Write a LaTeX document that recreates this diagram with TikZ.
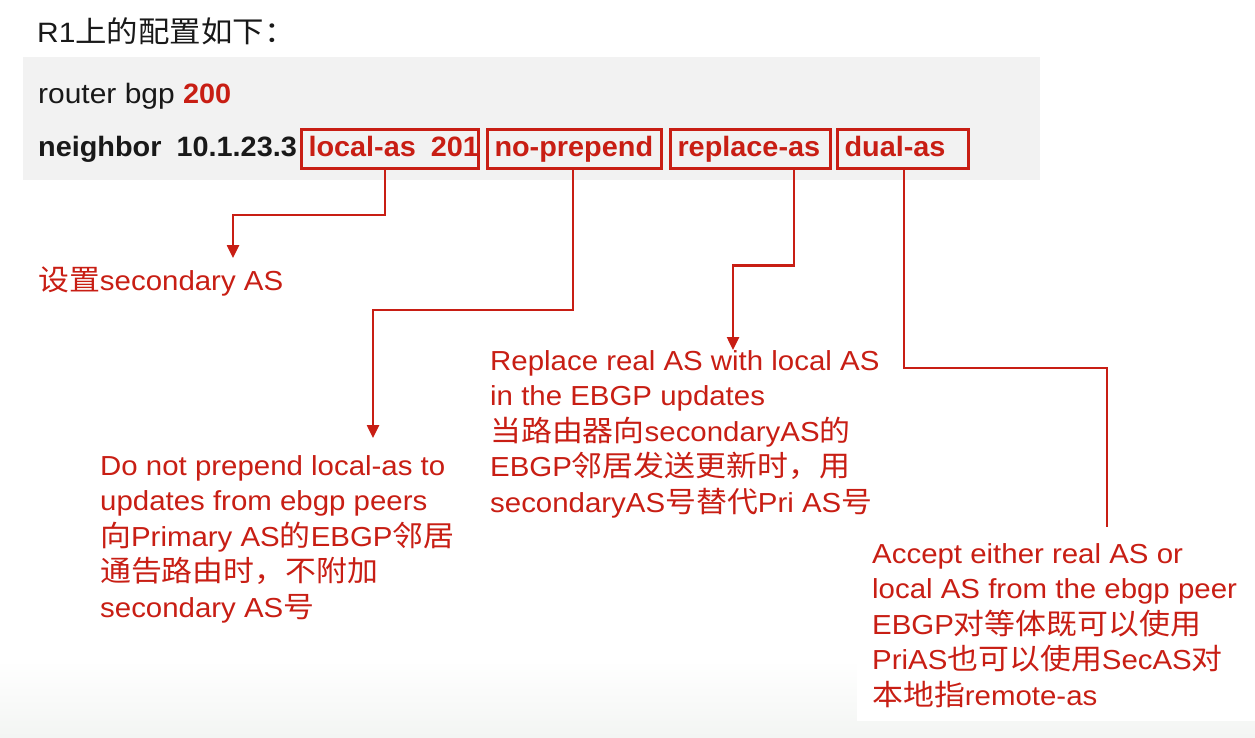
\documentclass[tikz,border=0pt]{standalone}
\usepackage{fontspec}
\setmainfont[FakeStretch=1.07]{Liberation Sans}
\newfontfamily\cmdsans[FakeStretch=1.03]{Liberation Sans}
\newfontfamily\cjkfont[Scale=1.05,FakeStretch=1.07]{Noto Sans CJK SC}
\usetikzlibrary{arrows.meta,calc}
\definecolor{hwred}{RGB}{200,30,20}
\definecolor{codegray}{RGB}{242,242,242}
\definecolor{txtblack}{RGB}{25,25,25}
\definecolor{floorgray}{RGB}{243,245,243}
\newcommand\zh[1]{{\cjkfont #1}}
\newcommand\Ln[1]{\hbox{#1}}
\begin{document}
\spaceskip=11pt\relax
\begin{tikzpicture}[x=1pt,y=-1pt,
  txt/.style={inner sep=0pt, anchor=base west, font=\fontsize{27.5}{35.5}\selectfont},
  head/.style={inner sep=0pt, anchor=base west, text=txtblack, font=\fontsize{28}{34}\selectfont},
  note/.style={txt, text=hwred},
  cmd/.style={draw=hwred, line width=3pt, text=hwred, font=\fontsize{28}{34}\cmdsans\bfseries, inner xsep=7pt, inner ysep=0pt, text height=20pt, text depth=6pt, minimum height=39pt, align=left},
  conn/.style={draw=hwred, line width=2.5pt},
  arr/.style={conn, -{Triangle[length=13pt,width=12pt]}}
]
\useasboundingbox (0,0) rectangle (1255,737);
\fill[white] (0,0) rectangle (1255,737);
\shade[top color=white, bottom color=floorgray] (0,660) rectangle (1255,737);
\fill[white] (857,528) rectangle (1255,721);
\fill[codegray] (23,57) rectangle (1040,180);

% header texts
\node[head] (title) at (37,42) {R1\zh{上的配置如下：}};
\node[head] (router) at (38,103) {router bgp {\cmdsans\bfseries\textcolor{hwred}{200}}};
\node[head, font=\fontsize{28}{34}\cmdsans\bfseries] (nb) at (38,156) {neighbor\hspace{15pt}10.1.23.3};

% command boxes
\node[cmd, text width=163pt] (la) at (390,149) {\Ln{local-as\hspace{15pt}201}};
\node[cmd, text width=160pt] (np) at (574.5,149) {\Ln{no-prepend}};
\node[cmd, text width=146pt] (rp) at (750.5,149) {\Ln{replace-as}};
\node[cmd, text width=117pt] (da) at (903,149) {\Ln{dual-as}};

% notes
\node[note] (nA) at (38,290) {\zh{设置}secondary\ AS};
\node[note] (nB) at (100,475) {\vtop{%
  \Ln{Do not prepend\ local-as\ to}%
  \Ln{updates\ from ebgp\ peers}%
  \Ln{\zh{向}Primary AS\zh{的}EBGP\zh{邻居}}%
  \Ln{\zh{通告路由时，不附加}}%
  \Ln{secondary AS\zh{号}}}};
\node[note] (nC) at (490,370) {\vtop{%
  \Ln{Replace\ real AS with\ local AS}%
  \Ln{in the EBGP updates}%
  \Ln{\zh{当路由器向}secondaryAS\zh{的}}%
  \Ln{EBGP\zh{邻居发送更新时，用}}%
  \Ln{secondaryAS\zh{号替代}Pri AS\zh{号}}}};
\node[note] (nD) at (872,563) {\vtop{%
  \Ln{Accept either\ real AS or}%
  \Ln{local AS from the ebgp peer}%
  \Ln{EBGP\zh{对等体既可以使用}}%
  \Ln{PriAS\zh{也可以使用}SecAS\zh{对}}%
  \Ln{\zh{本地指}remote-as}}};

% connectors
\coordinate (tA) at (233,258);
\coordinate (tB) at (373,438);
\coordinate (tC) at (733,350);
\coordinate (tD) at (1107,527);
\draw[arr] ([xshift=-5pt]la.south) -- ++(0,45) -| (tA);
\draw[arr] ([xshift=-1.5pt]np.south) -- ++(0,140) -| (tB);
\draw[arr] ([xshift=43.5pt]rp.south) -- ++(0,95.5) -| (tC);
\draw[conn] ([xshift=1pt]da.south) -- ++(0,198) -| (tD);
\end{tikzpicture}
\end{document}
